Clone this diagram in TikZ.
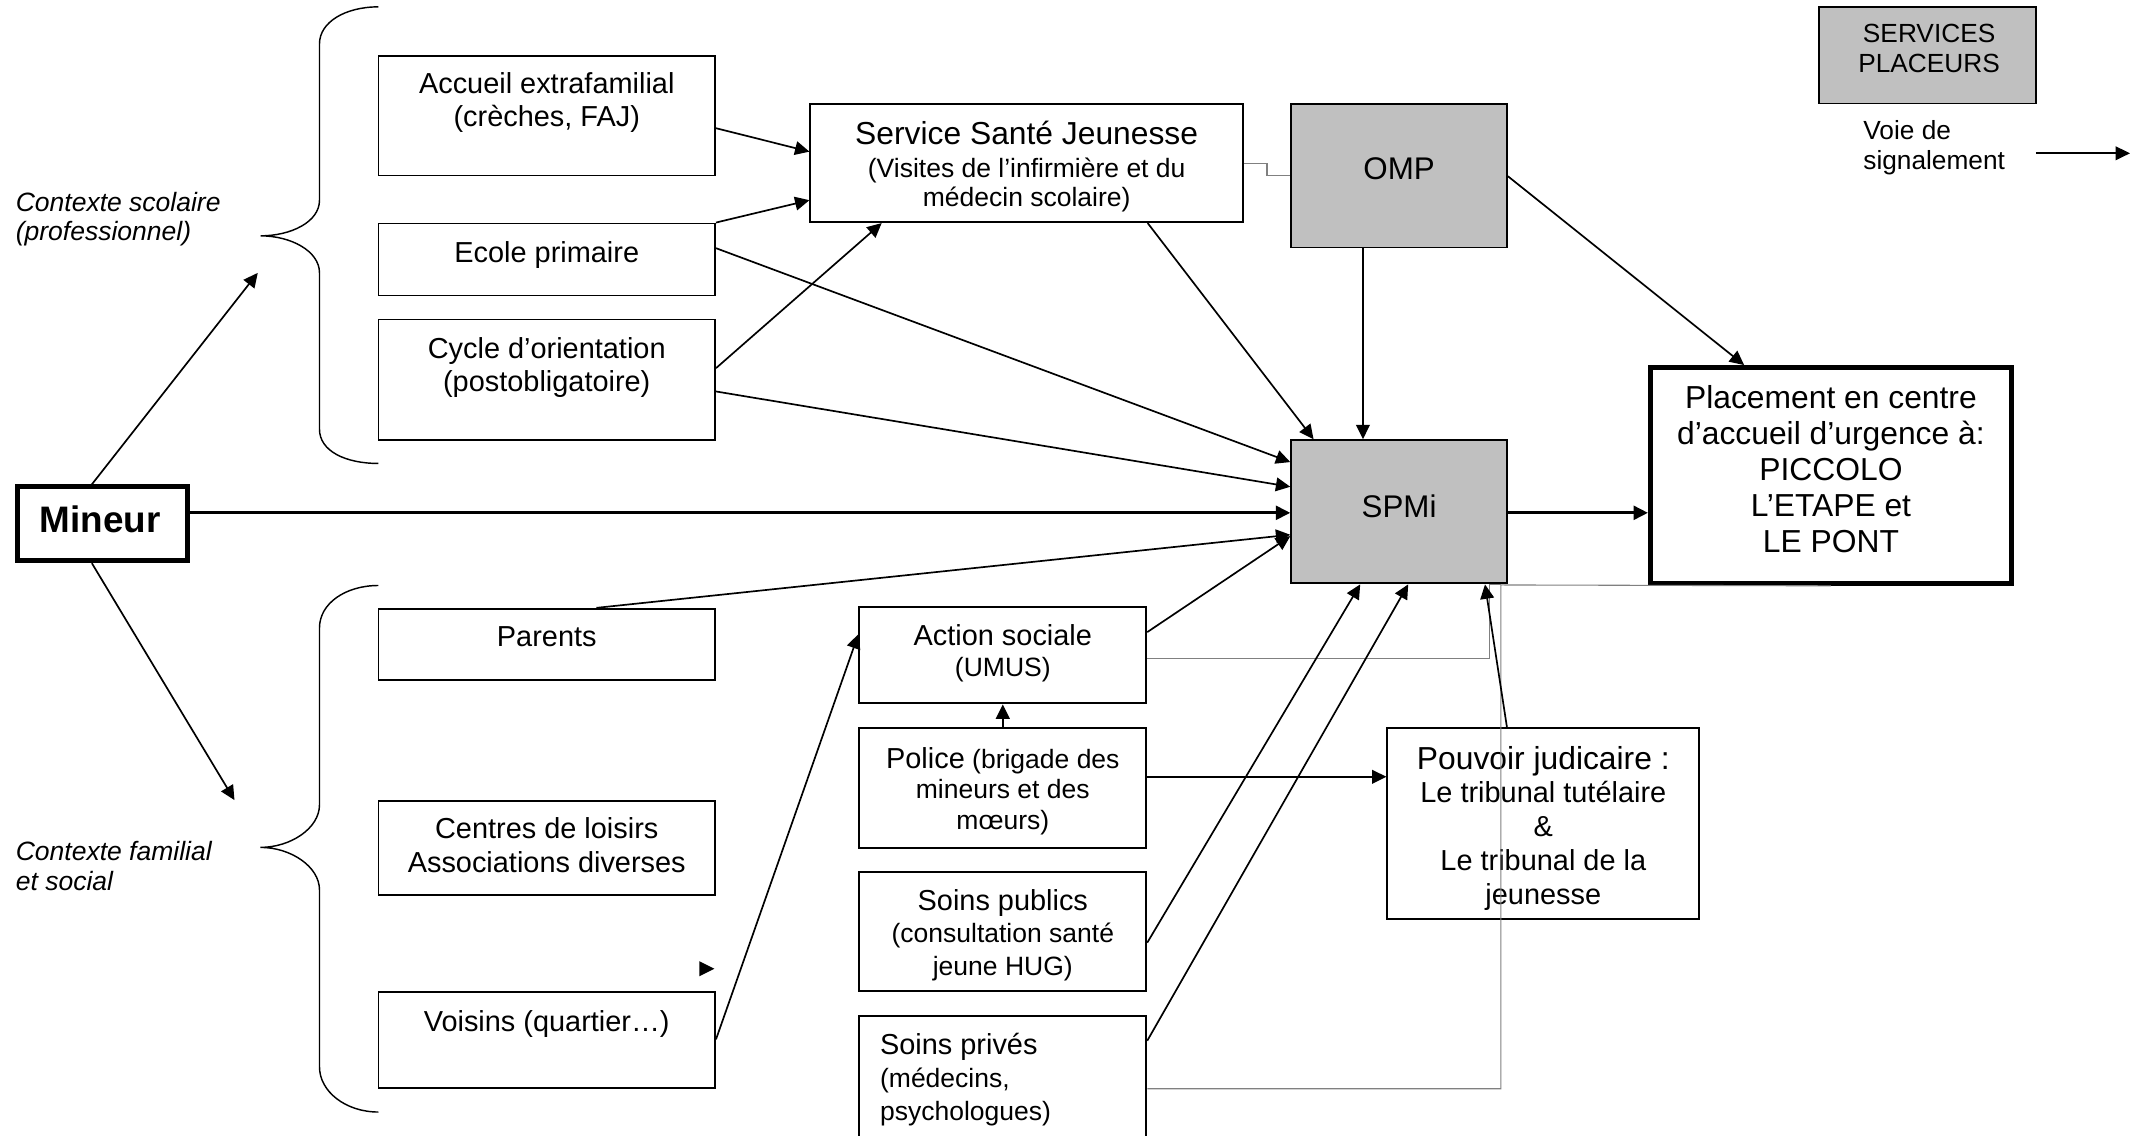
\documentclass[tikz,border=0pt]{standalone}
\usepackage{fontspec}
\setmainfont{Liberation Sans}
\usetikzlibrary{arrows.meta}
\definecolor{boxgrey}{HTML}{C0C0C0}
\definecolor{linkgrey}{HTML}{808080}
\begin{document}
\begin{tikzpicture}[x=0.02cm, y=-0.02cm,
  box/.style={draw, line width=0.8pt, inner sep=0pt},
  greybox/.style={box, fill=boxgrey},
  thickbox/.style={box, line width=2pt},
  txt/.style={inner sep=0pt, align=center, font=\fontsize{12}{13.8}\selectfont},
  arr/.style={line width=0.7pt, -{Triangle[length=2.1mm, width=2mm]}},
  thickarr/.style={line width=1.3pt, -{Triangle[length=2.1mm, width=2mm]}},
  link/.style={line width=0.45pt, linkgrey}]
\useasboundingbox (0,0) rectangle (1568,828);
\clip (0,0) rectangle (1568,828);
\node[thickbox, minimum width=2.47cm, minimum height=1.08cm] (mineur) at (74.75,382){};
\node[txt, font=\bfseries\fontsize{15.3}{17}\selectfont] (mineurT) at (73,378.5){Mineur};
\node[txt, anchor=west, align=left, font=\itshape\fontsize{11}{12.2}\selectfont] (ctxA) at (11.2,159.7){Contexte scolaire\\(professionnel)};
\node[txt, anchor=west, align=left, font=\itshape\fontsize{11}{12.2}\selectfont] (ctxB) at (11.2,631.5){Contexte familial\\et social};
\coordinate (braceA) at (188,199);
\coordinate (braceB) at (171,583.5);
\draw[line width=0.6pt] (276,5) .. controls (252,5) and (233,16) .. (233,32) -- (233,146) .. controls (233,162) and (212,172) .. (190,172) .. controls (212,172) and (233,183) .. (233,199) -- (233,313) .. controls (233,329) and (252,338) .. (276,338);
\draw[line width=0.6pt] (276,427) .. controls (252,427) and (233,440) .. (233,458) -- (233,587) .. controls (233,604) and (212,618) .. (190,618) .. controls (212,618) and (233,632) .. (233,649) -- (233,778) .. controls (233,796) and (252,811) .. (276,811);
\node[box, minimum width=4.91cm, minimum height=1.74cm] (acc) at (398.75,84.5){};
\node[txt] (accT) at (398.75,75){Accueil extrafamilial\\(crèches, FAJ)};
\node[box, minimum width=4.91cm, minimum height=1.05cm] (ecole) at (398.75,189.25){};
\node[txt] (ecoleT) at (398.75,185.7){Ecole primaire};
\node[box, minimum width=4.91cm, minimum height=1.76cm] (cycle) at (398.75,277){};
\node[txt] (cycleT) at (398.75,268){Cycle d’orientation\\(postobligatoire)};
\node[box, minimum width=6.31cm, minimum height=1.72cm] (ssj) at (748.75,119){};
\node[txt, font=\fontsize{13.2}{15}\selectfont] (ssjT) at (748.75,97){Service Santé Jeunesse};
\node[txt, font=\fontsize{11}{11.8}\selectfont] (ssjS) at (748.75,135){(Visites de l’infirmière et du\\médecin scolaire)};
\node[greybox, minimum width=3.146cm, minimum height=2.09cm] (omp) at (1020.35,128.25){};
\node[txt, font=\fontsize{13}{15}\selectfont] (ompT) at (1020.35,123){OMP};
\node[greybox, minimum width=3.146cm, minimum height=2.09cm] (spmi) at (1020.35,373.25){};
\node[txt, font=\fontsize{13}{15}\selectfont] (spmiT) at (1020.35,369){SPMi};
\node[thickbox, minimum width=5.268cm, minimum height=3.15cm] (place) at (1335.3,346.75){};
\node[txt, font=\fontsize{13.2}{15}\selectfont] (placeT) at (1335.3,342.2){Placement en centre\\d’accueil d’urgence à:\\PICCOLO\\L’ETAPE et\\LE PONT};
\node[greybox, line width=0.6pt, minimum width=3.166cm, minimum height=1.406cm] (serv) at (1405.65,40.35){};
\node[txt, font=\fontsize{10.9}{12.2}\selectfont] (servT) at (1406.9,35.25){SERVICES\\PLACEURS};
\node[txt, anchor=west, align=left, font=\fontsize{10.9}{12.3}\selectfont] (voieT) at (1358.6,107.8){Voie de\\signalement};
\coordinate (legA) at (1484.8,111.8);
\coordinate (legB) at (1553.4,111.8);
\node[box, minimum width=4.91cm, minimum height=1.04cm] (parents) at (398.75,470){};
\node[txt] (parentsT) at (398.75,464.3){Parents};
\node[box, minimum width=4.91cm, minimum height=1.38cm] (loisirs) at (398.75,618.5){};
\node[txt] (loisirsT) at (398.75,616.3){Centres de loisirs\\Associations diverses};
\node[box, minimum width=4.91cm, minimum height=1.4cm] (voisins) at (398.75,758.5){};
\node[txt] (voisinsT) at (398.75,746.5){Voisins (quartier…)};
\node[box, minimum width=4.186cm, minimum height=1.4cm] (action) at (731.35,478){};
\node[txt] (actionT) at (731.35,463){Action sociale};
\node[txt, font=\fontsize{11}{12.6}\selectfont] (actionS) at (731.35,488.5){(UMUS)};
\node[box, minimum width=4.186cm, minimum height=1.75cm] (police) at (731.35,574.75){};
\node[txt, font=\fontsize{11}{12.8}\selectfont] (policeT) at (731.35,577){{\fontsize{12}{12.8}\selectfont Police} (brigade des\\mineurs et des\\mœurs)};
\node[box, minimum width=4.186cm, minimum height=1.74cm] (publics) at (731.35,679.5){};
\node[txt, font=\fontsize{11}{13.5}\selectfont] (publicsT) at (731.35,682){{\fontsize{12}{13.5}\selectfont Soins publics}\\(consultation santé\\jeune HUG)};
\node[box, minimum width=4.186cm, minimum height=2cm] (prives) at (731.35,791){};
\node[txt, anchor=west, align=left, font=\fontsize{11}{13.6}\selectfont] (privesT) at (641.5,787.5){{\fontsize{12}{13.6}\selectfont Soins privés}\\(médecins,\\psychologues)};
\node[box, minimum width=4.55cm, minimum height=2.78cm] (pouvoir) at (1125.55,600.5){};
\node[txt, font=\fontsize{12}{14}\selectfont] (pouvoirT) at (1125.55,604){{\fontsize{13.2}{14}\selectfont Pouvoir judicaire :}\\Le tribunal tutélaire~\\\&\\Le tribunal de la\\jeunesse};
\draw[link] (ssj.east |- 0,119) -- (924,119) -- (924,128) -- (omp.west |- 0,128);
\draw[link] (action.east |- 0,480) -| (1086,426.6) -- (1094.6,426.6);
\draw[link] (prives.east |- 0,794) -| (1094.6,426.6) -- (place.south);
\draw[arr] (mineur.north -| 67,0) -- (braceA);
\draw[arr] (mineur.south -| 67,0) -- (braceB);
\draw[thickarr] (mineur.east |- 0,374) -- (spmi.west |- 0,374);
\draw[arr] (acc.east |- 0,93.5) -- (ssj.west |- 0,110.6);
\draw[arr] (ecole.north east) -- (ssj.west |- 0,146);
\draw[arr] (cycle.east |- 0,268.5) -- (ssj.south -| 643,0);
\draw[arr] (ecole.east |- 0,181) -- (spmi.west |- 0,337);
\draw[arr] (cycle.east |- 0,285.5) -- (spmi.west |- 0,355);
\draw[arr] (ssj.south -| 837,0) -- (spmi.north -| 958,0);
\draw[arr] (omp.south -| 994,0) -- (spmi.north -| 994,0);
\draw[arr] (omp.east |- 0,128.5) -- (place.north -| 1272,0);
\draw[thickarr] (spmi.east |- 0,374) -- (place.west |- 0,374);
\draw[arr] (parents.north -| 435,0) -- (spmi.west |- 0,390);
\draw[arr] (action.east |- 0,461) -- (spmi.west |- 0,391);
\draw[arr] (police.north) -- (action.south);
\draw[arr] (police.east |- 0,566.5) -- (pouvoir.west |- 0,566.5);
\draw[arr] (publics.east |- 0,687.5) -- (spmi.south -| 992,0);
\draw[arr] (prives.east |- 0,759) -- (spmi.south -| 1027,0);
\draw[arr] (pouvoir.north -| 1099,0) -- (spmi.south -| 1083,0);
\draw[arr] (voisins.east |- 0,758) -- (action.west |- 0,462.5);
\draw[arr] (legA) -- (legB);
\fill (510,701) -- (521,706.5) -- (510,712) -- cycle;
\end{tikzpicture}
\end{document}
